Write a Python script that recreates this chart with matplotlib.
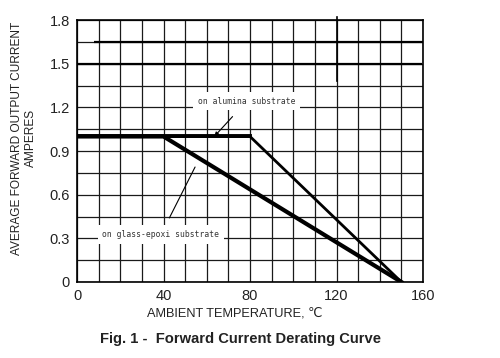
import matplotlib
matplotlib.use("Agg")
import matplotlib.pyplot as plt

# derating curves
temp_alumina = [0, 80, 150]
current_alumina = [1.0, 1.0, 0.0]
temp_glass = [0, 40, 150]
current_glass = [1.0, 1.0, 0.0]

# heavier reference rules printed on the chart
rule_levels = [1.65, 1.5]
rule_starts = [8, 0]
rule_ends = [160, 159.5]

x_ticks = [0, 40, 80, 120, 160]
y_ticks = [0, 0.3, 0.6, 0.9, 1.2, 1.5, 1.8]
x_grid = list(range(0, 161, 10))
y_grid = [i * 0.15 for i in range(13)]

plt.rcParams["font.family"] = ["Liberation Sans", "DejaVu Sans"]

fig = plt.figure(figsize=(5.0, 3.58), dpi=100)
ax = fig.add_axes([0.154, 0.2123, 0.692, 0.7317])
ax.set_xlim(0, 160)
ax.set_ylim(0, 1.8)

for gx in x_grid:
    ax.axvline(gx, color="#1a1a1a", lw=0.9, zorder=1)
for gy in y_grid:
    ax.axhline(gy, color="#1a1a1a", lw=0.9, zorder=1)

for lvl, x0, x1 in zip(rule_levels, rule_starts, rule_ends):
    ax.plot([x0, x1], [lvl, lvl], color="black", lw=1.6, zorder=2, solid_capstyle="butt")
ax.plot([120, 120], [1.38, 1.82], color="black", lw=1.2, zorder=2, clip_on=False)

ax.plot(temp_alumina, current_alumina, color="black", lw=2.0, zorder=3)
ax.plot(temp_glass, current_glass, color="black", lw=3.0, zorder=4)
ax.plot([0, 80], [1.0, 1.0], color="black", lw=2.8, zorder=4)

mono = dict(family="DejaVu Sans Mono", fontsize=5.8, color="#333333")
box = dict(boxstyle="square,pad=0.6", fc="white", ec="none")
ax.annotate("on alumina substrate", xy=(63.5, 1.0), xytext=(78.5, 1.243),
            ha="center", va="center", bbox=box, zorder=5,
            arrowprops=dict(arrowstyle="-|>", color="black", lw=0.8,
                            mutation_scale=6, shrinkA=6, shrinkB=0), **mono)
ax.annotate("on glass-epoxi substrate", xy=(54.6, 0.79), xytext=(38.8, 0.325),
            ha="center", va="center", bbox=box, zorder=5,
            arrowprops=dict(arrowstyle="-", color="black", lw=0.8,
                            shrinkA=6, shrinkB=0), **mono)

ax.set_xticks(x_ticks)
ax.set_xticklabels([str(t) for t in x_ticks])
ax.set_yticks(y_ticks)
ax.set_yticklabels(["0", "0.3", "0.6", "0.9", "1.2", "1.5", "1.8"])
ax.tick_params(length=0, labelsize=10.5, colors="#222222", pad=5)
for s in ax.spines.values():
    s.set_linewidth(1.2)
    s.set_zorder(6)

fig.text(0.048, 0.614, "AVERAGE FORWARD OUTPUT CURRENT\nAMPERES", rotation=90,
         ha="center", va="center", fontsize=8.6, color="#222222", linespacing=1.2)
fig.text(0.47, 1 - 313 / 358, "AMBIENT TEMPERATURE, \u2103", ha="center", va="center",
         fontsize=9.2, color="#222222")
fig.text(0.48, 1 - 339 / 358, "Fig. 1 -  Forward Current Derating Curve", ha="center",
         va="center", fontsize=10.6, fontweight="bold", color="#222222")

fig.savefig("out.png", dpi=100)
